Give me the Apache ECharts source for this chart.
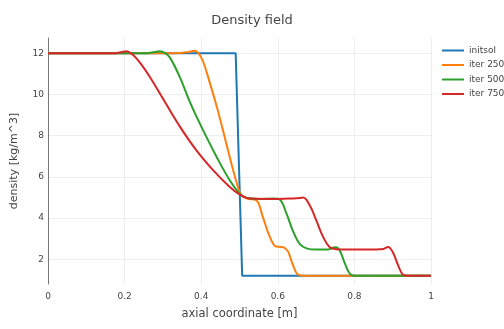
<!DOCTYPE html>
<html>
<head>
<meta charset="utf-8">
<script src="https://cdn.jsdelivr.net/npm/echarts@6/dist/echarts.min.js"></script>
<style>
  html, body {margin: 0; padding: 0; background: #fff;}
  #chart {width: 504px; height: 329px;}
</style>
</head>
<body>
<div id="chart"></div>
<script>
const seriesNames = ['initsol', 'iter 250', 'iter 500', 'iter 750'];
const xTicks = [0, 0.2, 0.4, 0.6, 0.8, 1];
const yTicks = [2, 4, 6, 8, 10, 12];

const initsolX = [0, 0.49, 0.507, 1];
const initsolY = [12, 12, 1.2, 1.2];

const iter250X = [0, 0.33, 0.365, 0.383, 0.395, 0.405, 0.422, 0.44, 0.457, 0.474, 0.492, 0.505, 0.52, 0.544, 0.561, 0.579, 0.596, 0.61, 0.618, 0.627, 0.64, 0.653, 0.67, 1];
const iter250Y = [12, 12, 12.05, 12.12, 11.95, 11.6, 10.6, 9.45, 8.25, 7.0, 5.75, 5.1, 4.95, 4.86, 4.05, 3.1, 2.62, 2.6, 2.55, 2.37, 1.7, 1.25, 1.2, 1.2];

const iter500X = [0, 0.25, 0.275, 0.292, 0.305, 0.318, 0.344, 0.37, 0.4, 0.44, 0.474, 0.5, 0.52, 0.55, 0.59, 0.605, 0.622, 0.64, 0.657, 0.675, 0.7, 0.73, 0.75, 0.758, 0.766, 0.775, 0.788, 0.8, 1];
const iter500Y = [12, 12, 12.05, 12.1, 12.02, 11.8, 10.85, 9.65, 8.45, 6.98, 5.85, 5.2, 4.97, 4.93, 4.95, 4.9, 4.25, 3.35, 2.75, 2.53, 2.47, 2.47, 2.58, 2.53, 2.25, 1.8, 1.3, 1.2, 1.2];

const iter750X = [0, 0.17, 0.19, 0.205, 0.22, 0.24, 0.266, 0.3, 0.344, 0.387, 0.431, 0.474, 0.5, 0.527, 0.6, 0.64, 0.657, 0.666, 0.683, 0.7, 0.718, 0.735, 0.753, 0.8, 0.86, 0.875, 0.888, 0.9, 0.914, 0.927, 0.94, 1];
const iter750Y = [12, 12, 12.05, 12.1, 11.95, 11.55, 10.85, 9.8, 8.45, 7.3, 6.33, 5.52, 5.15, 4.95, 4.93, 4.95, 4.97, 5.0, 4.64, 3.91, 3.1, 2.6, 2.49, 2.47, 2.48, 2.5, 2.6, 2.35, 1.72, 1.25, 1.2, 1.2];

const colors = ['#1f77b4', '#ff7f0e', '#2ca02c', '#d62728'];
const zip = (xs, ys) => xs.map((x, i) => [x, ys[i]]);
const font = 'DejaVu Sans';

const chart = echarts.init(document.getElementById('chart'));
chart.setOption({
  animation: false,
  color: colors,
  textStyle: {fontFamily: font, color: '#444'},
  title: {
    text: 'Density field',
    left: 'center',
    top: 9,
    textStyle: {fontFamily: font, fontSize: 13, fontWeight: 'normal', color: '#444'}
  },
  legend: {
    orient: 'vertical',
    left: 437,
    top: 41,
    icon: 'rect',
    itemWidth: 22,
    itemHeight: 2,
    itemGap: 5.5,
    data: seriesNames,
    textStyle: {fontFamily: font, fontSize: 9, color: '#444'}
  },
  grid: {left: 48, right: 73, top: 38, bottom: 45},
  xAxis: {
    type: 'value',
    min: 0,
    max: 1,
    interval: 0.2,
    name: 'axial coordinate [m]',
    nameLocation: 'middle',
    nameGap: 24,
    nameTextStyle: {fontFamily: font, fontSize: 11.5, color: '#444'},
    axisLine: {show: false},
    axisTick: {show: false},
    axisLabel: {
      fontFamily: font, fontSize: 9, color: '#444', margin: 8,
      customValues: xTicks,
      formatter: v => String(+v.toFixed(1))
    },
    splitLine: {show: true, lineStyle: {color: '#eee', width: 1}}
  },
  yAxis: {
    type: 'value',
    min: 0.8,
    max: 12.74,
    name: 'density [kg/m^3]',
    nameLocation: 'middle',
    nameGap: 28,
    nameTextStyle: {fontFamily: font, fontSize: 11, color: '#444'},
    axisLine: {show: true, lineStyle: {color: '#777', width: 1}},
    axisTick: {show: false, customValues: yTicks},
    axisLabel: {fontFamily: font, fontSize: 9, color: '#444', margin: 4, customValues: yTicks},
    splitLine: {show: true, lineStyle: {color: '#eee', width: 1}}
  },
  series: [
    {name: seriesNames[0], data: zip(initsolX, initsolY), smooth: false},
    {name: seriesNames[1], data: zip(iter250X, iter250Y), smooth: 0.4},
    {name: seriesNames[2], data: zip(iter500X, iter500Y), smooth: 0.4},
    {name: seriesNames[3], data: zip(iter750X, iter750Y), smooth: 0.4}
  ].map(s => ({
    ...s,
    type: 'line',
    showSymbol: false,
    symbol: 'none',
    lineStyle: {width: 2}
  }))
});
</script>
</body>
</html>
